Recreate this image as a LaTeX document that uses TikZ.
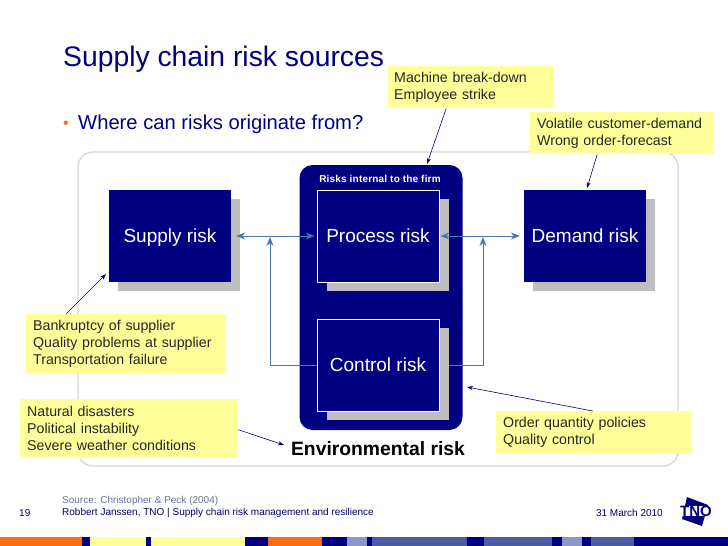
\documentclass[tikz,border=0pt]{standalone}
\usepackage{fontspec}
\setmainfont{Liberation Sans}
\usetikzlibrary{arrows.meta, positioning, fit}
\definecolor{navy}{HTML}{000080}
\definecolor{shade}{HTML}{BEBEBE}
\definecolor{note}{HTML}{FFFF99}
\definecolor{link}{HTML}{4A76AC}
\definecolor{rim}{HTML}{D4D4D4}
\definecolor{orangebar}{HTML}{FF6C10}
\definecolor{bluebar}{HTML}{4A5CA6}
\definecolor{palebar}{HTML}{8D96C8}
\definecolor{greytext}{HTML}{6A7090}
\newcommand{\fsize}[1]{\fontsize{#1}{#1}\selectfont}

\begin{document}
\begin{tikzpicture}[x=1pt, y=-1pt,
      riskbox/.style={fill=navy, text=white, minimum width=122pt, minimum height=92pt,
                      inner sep=0pt, text height=14pt, text depth=2pt, font=\fsize{19}},
      riskwhite/.style={riskbox, draw=white, line width=0.8pt},
      shadow/.style={fill=shade, minimum width=122pt, minimum height=92pt, inner sep=0pt},
      remark/.style={fill=note, anchor=north west, align=left, inner xsep=7pt, inner ysep=0pt,
                     font=\fontsize{14.2}{17}\selectfont, text=black!85},
      arr/.style={{Stealth[length=9pt,width=7pt]}-{Stealth[length=9pt,width=7pt]}, link, line width=0.9pt},
      single/.style={-{Stealth[length=9pt,width=7pt]}, link, line width=0.9pt},
      pointer/.style={-{Stealth[length=6pt,width=4pt]}, navy, line width=0.6pt},
      foot/.style={anchor=west, inner sep=0pt, font=\fsize{10}, text=navy!80!black}]
    \useasboundingbox (0, 0) rectangle (728, 546);
    \fill[white] (0, 0) rectangle (728, 546);
    % frame
    \draw[rim, line width=1.2pt, rounded corners=15pt] (78, 152) rectangle (678, 466);
    \node[anchor=west, inner sep=0pt, text=navy, font=\fsize{28.3}] (title) at (63, 59) {Supply chain risk sources};
    \node[anchor=west, inner sep=0pt, text=navy, font=\fsize{20.2}] (question) at (78, 124) {Where can risks originate from?};
    \node[inner sep=0pt, text=orangebar, font=\fsize{16}] (bullet) at (66, 125) {•};
    % firm
    \node[fill=navy, rounded corners=13pt, minimum width=163pt, minimum height=265pt, inner sep=0pt] (firm) at (381, 297.5) {};
    \node[inner sep=0pt, text=white, font=\bfseries\fsize{10}\addfontfeature{LetterSpace=2}] (firmlabel) at (380, 179) {Risks internal to the firm};
    % boxes
    \node[shadow] (s1) at (179, 245) {};
    \node[riskbox] (supply) at (170, 236) {Supply risk};
    \node[shadow] (s2) at (388, 245) {};
    \node[riskwhite] (process) at (378, 236) {Process risk};
    \node[shadow] (s3) at (594, 245) {};
    \node[riskbox] (demand) at (585, 236) {Demand risk};
    \node[shadow] (s4) at (388, 374) {};
    \node[riskwhite] (control) at (378, 365) {Control risk};
    \node[inner sep=0pt, font=\bfseries\fsize{19.3}] (env) at (378, 449) {Environmental risk};
    % links
    \draw[arr] ([xshift=5pt]supply.east) -- ([xshift=-2pt]process.west);
    \draw[arr] ([xshift=1pt]process.east) -- ([xshift=-4pt]demand.west);
    \draw[single] (control.west) -- (270, 365) -- (270, 237);
    \draw[single] (s4.east |- control.east) -- (483, 365) -- (483, 237);
    % remarks
    \node[remark, text width=186pt, minimum height=59pt] (r1) at (26, 314) {Bankruptcy of supplier\\Quality problems at supplier\\Transportation failure};
    \node[remark, text width=204pt, minimum height=59pt] (r2) at (20, 399) {Natural disasters\\Political instability\\Severe weather conditions};
    \node[remark, text width=181pt, minimum height=42pt] (r3) at (496, 411) {Order quantity policies\\Quality control};
    \node[remark, text width=154pt, minimum height=42pt, inner xsep=6pt] (r4) at (388, 66) {Machine break-down\\Employee strike};
    \node[remark, text width=170pt, minimum height=42pt] (r5) at (530, 112) {Volatile customer-demand\\Wrong order-forecast};
    % pointers
    \coordinate (p1) at (106, 274);
    \coordinate (p2) at (284, 445);
    \coordinate (p3) at (467, 387);
    \coordinate (p4) at (427, 164);
    \coordinate (p5) at (587, 188);
    \draw[pointer] ([xshift=40pt]r1.north west) -- (p1);
    \draw[pointer] ([yshift=-1pt]r2.east) -- (p2);
    \draw[pointer] ([xshift=-1pt]r3.north) -- (p3);
    \draw[pointer] ([xshift=-25pt]r4.south) -- (p4);
    \draw[pointer] ([xshift=-25pt]r5.south) -- (p5);
    % footer
    \node[foot, text=greytext] (source) at (62, 501) {Source: Christopher \& Peck (2004)};
    \node[foot] (author) at (62, 513) {Robbert Janssen, TNO | Supply chain risk management and resilience};
    \node[foot] (page) at (19, 513) {19};
    \node[foot, anchor=east] (date) at (663, 513) {31 March 2010};
    % logo
    \fill[navy] (687, 497) -- (708, 505) -- (702, 526) -- (682, 519) -- cycle;
    \node[inner sep=0pt, fill=white, text=navy, font=\bfseries\fsize{15}] (logo) at (696, 511) {TNO};
    % bars
    \foreach \xa/\xb/\col in {0/82/orangebar, 82/90/navy, 90/146/note, 146/151/navy, 151/245/note,
        245/268/navy, 268/322/orangebar, 322/347/navy, 347/367/palebar, 367/372/navy,
        372/467/bluebar, 467/484/navy, 484/552/bluebar, 552/562/navy, 562/582/palebar,
        582/591/navy, 591/634/bluebar, 634/728/navy}
      \fill[\col] (\xa, 537) rectangle (\xb, 546);
  \end{tikzpicture}
\end{document}
